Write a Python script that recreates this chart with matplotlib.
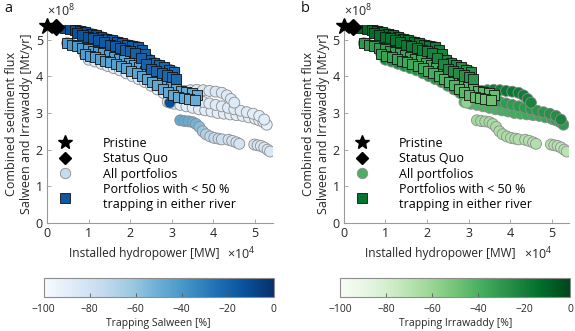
import numpy as np
import matplotlib.pyplot as plt
from matplotlib.lines import Line2D
from matplotlib.colors import Normalize
from matplotlib.cm import ScalarMappable

plt.rcParams['font.family'] = ['Open Sans', 'DejaVu Sans']
plt.rcParams['mathtext.fontset'] = 'custom'
plt.rcParams['mathtext.rm'] = 'Open Sans'

# hydropower in 1e4 MW, flux in 1e8 Mt/yr, trapping in %
pristine = (0.0, 5.36)
status_quo = (0.22, 5.34)

# upper band of portfolios (< 50 % trapping in both rivers)
up_hp = [0.42, 0.55, 0.68, 0.80, 0.92, 1.05, 1.18, 1.30, 1.42, 1.55, 1.68, 1.80, 1.92, 2.05, 2.18,
         2.28, 2.36, 2.46, 2.58, 2.70, 2.82, 2.94, 3.06,
         0.72, 0.85, 0.98, 1.10, 1.23, 1.36, 1.50, 1.62, 1.75, 1.88, 2.00, 2.12, 2.25, 2.38, 2.50,
         2.62, 2.75, 2.88, 3.00, 3.10]
up_flux = [5.32, 5.30, 5.27, 5.23, 5.20, 5.16, 5.12, 5.07, 5.02, 4.98, 4.94, 4.90, 4.86, 4.83, 4.80,
           4.72, 4.60, 4.45, 4.36, 4.30, 4.24, 4.18, 4.12,
           5.18, 5.13, 5.08, 5.03, 4.98, 4.93, 4.86, 4.82, 4.77, 4.72, 4.68, 4.62, 4.50, 4.32, 4.20,
           4.15, 4.09, 4.02, 3.97, 3.93]
up_sal = [-10, -11, -12, -12, -13, -13, -14, -14, -15, -15, -16, -16, -17, -17, -18,
          -18, -19, -19, -20, -20, -21, -21, -22,
          -13, -14, -14, -15, -15, -16, -16, -17, -17, -18, -18, -19, -19, -20, -20,
          -21, -21, -22, -22, -23]
up_irr = [-10, -11, -12, -12, -13, -13, -14, -14, -15, -15, -16, -16, -17, -18, -19,
          -20, -21, -22, -23, -24, -25, -26, -27,
          -13, -14, -14, -15, -16, -16, -17, -18, -18, -19, -20, -21, -22, -23, -24,
          -25, -26, -27, -28, -29]

# lower band of portfolios (< 50 % trapping in both rivers)
lo_hp = [0.48, 0.60, 0.72, 0.85, 0.98, 1.10, 1.22, 1.35, 1.48, 1.60, 1.72, 1.85, 1.98, 2.10, 2.22,
         2.35, 2.48, 2.60, 2.72, 2.85, 2.98, 3.10, 3.22, 3.35, 3.48, 3.60,
         0.90, 1.02, 1.15, 1.28, 1.40, 1.52, 1.65, 1.78, 1.90, 2.02, 2.15, 2.28, 2.40, 2.52, 2.65,
         2.78, 2.90, 3.02, 3.15, 3.28, 3.40, 3.55]
lo_flux = [4.90, 4.86, 4.82, 4.78, 4.74, 4.70, 4.66, 4.62, 4.57, 4.53, 4.48, 4.43, 4.37, 4.31, 4.24,
           4.15, 4.05, 3.97, 3.88, 3.80, 3.70, 3.64, 3.60, 3.56, 3.53, 3.50,
           4.60, 4.56, 4.52, 4.47, 4.42, 4.38, 4.33, 4.28, 4.22, 4.15, 4.08, 4.00, 3.92, 3.84, 3.75,
           3.66, 3.58, 3.50, 3.44, 3.40, 3.38, 3.35]
lo_sal = [-40, -40, -41, -41, -42, -42, -42, -43, -43, -43, -44, -44, -44, -45, -45,
          -45, -46, -46, -46, -47, -47, -47, -48, -48, -48, -49,
          -42, -42, -43, -43, -43, -44, -44, -44, -45, -45, -45, -46, -46, -46, -47,
          -47, -47, -48, -48, -48, -49, -49]
lo_irr = [-30, -31, -32, -32, -33, -33, -34, -34, -35, -35, -36, -36, -37, -37, -38,
          -38, -39, -39, -40, -41, -42, -43, -44, -45, -46, -47,
          -33, -34, -34, -35, -35, -36, -36, -37, -37, -38, -38, -39, -40, -41, -42,
          -43, -44, -45, -46, -47, -48, -48]

# other portfolios below the lower band
mid_hp = [1.00, 1.15, 1.30, 1.45, 1.60, 1.75, 1.90, 2.05, 2.20, 2.35, 2.50, 2.65, 2.80, 2.95]
mid_flux = [4.45, 4.40, 4.34, 4.28, 4.22, 4.16, 4.08, 4.00, 3.92, 3.84, 3.74, 3.64, 3.54, 3.44]
mid_sal = [-86, -86, -87, -87, -87, -88, -88, -88, -88, -89, -89, -89, -89, -90]
mid_irr = [-24, -25, -25, -26, -26, -27, -27, -28, -28, -29, -29, -30, -30, -31]

# right band, high hydropower
rb_hp = [2.90, 3.05, 3.20, 3.35, 3.50, 3.65, 3.80, 3.95, 4.10, 4.25, 4.40, 4.55, 4.70, 4.85, 5.00,
         5.10, 5.20, 5.28,
         3.00, 3.15, 3.30, 3.45, 3.60, 3.75, 3.90, 4.05, 4.20, 4.35, 4.50, 4.65, 4.80, 4.95, 5.10, 5.22,
         3.30, 3.45, 3.60, 3.75, 3.90, 4.05, 4.20, 4.32, 4.42, 4.50]
rb_flux = [3.30, 3.25, 3.22, 3.18, 3.14, 3.10, 3.07, 3.04, 3.00, 2.98, 2.96, 2.94, 2.92, 2.88, 2.84,
           2.80, 2.75, 2.68,
           3.45, 3.42, 3.40, 3.37, 3.33, 3.30, 3.26, 3.22, 3.18, 3.14, 3.10, 3.06, 3.02, 2.98, 2.92, 2.82,
           3.60, 3.62, 3.63, 3.62, 3.60, 3.58, 3.55, 3.48, 3.38, 3.28]
rb_sal = [-88, -88, -88, -89, -89, -89, -89, -90, -90, -90, -90, -90, -91, -91, -91,
          -91, -92, -92,
          -85, -85, -86, -86, -86, -87, -87, -87, -87, -88, -88, -88, -88, -89, -89, -89,
          -84, -84, -84, -85, -85, -85, -86, -86, -86, -86]
rb_irr = [-40, -40, -41, -41, -40, -40, -39, -39, -38, -38, -37, -37, -36, -35, -34,
          -33, -32, -30,
          -34, -34, -33, -33, -32, -32, -31, -31, -30, -30, -29, -29, -28, -27, -26, -22,
          -20, -19, -18, -18, -17, -17, -18, -19, -20, -22]

# low flux cluster
lc_hp = [3.20, 3.30, 3.40, 3.50, 3.58, 3.66, 3.74, 3.82, 3.92, 4.02, 4.12, 4.20, 4.36, 4.45,
         4.55, 4.62, 4.98, 5.06, 5.14, 5.22, 5.30, 5.36]
lc_flux = [2.80, 2.78, 2.77, 2.75, 2.70, 2.62, 2.50, 2.42, 2.36, 2.32, 2.30, 2.28, 2.27, 2.24,
           2.20, 2.16, 2.14, 2.12, 2.10, 2.06, 2.00, 1.95]
lc_sal = [-48, -48, -49, -50, -52, -56, -62, -68, -72, -75, -77, -78, -80, -80,
          -81, -81, -83, -83, -84, -84, -85, -85]
lc_irr = [-63, -63, -64, -64, -65, -65, -66, -66, -66, -67, -67, -67, -68, -68,
          -68, -68, -69, -69, -69, -70, -70, -70]

# single portfolio hidden under the bands
odd_hp = [2.95]
odd_flux = [3.28]
odd_sal = [-12]
odd_irr = [-58]

all_hp = up_hp + lo_hp + mid_hp + rb_hp + odd_hp + lc_hp
all_flux = up_flux + lo_flux + mid_flux + rb_flux + odd_flux + lc_flux
all_sal = up_sal + lo_sal + mid_sal + rb_sal + odd_sal + lc_sal
all_irr = up_irr + lo_irr + mid_irr + rb_irr + odd_irr + lc_irr

ok_hp = lo_hp + up_hp
ok_flux = lo_flux + up_flux
ok_sal = lo_sal + up_sal
ok_irr = lo_irr + up_irr

norm = Normalize(-100, 0)
fig = plt.figure(figsize=(5.75, 3.31), dpi=100)
fs = 9.0
txt = '#262626'

panels = [
    dict(left=0.082, cmap='Blues', c_all=all_sal, c_ok=ok_sal, tag='a', cb='Trapping Salween [%]'),
    dict(left=0.598, cmap='Greens', c_all=all_irr, c_ok=ok_irr, tag='b', cb='Trapping Irrawaddy [%]'),
]

for p in panels:
    cmap = plt.get_cmap(p['cmap'])
    ax = fig.add_axes([p['left'], 0.326, 0.392, 0.599])
    ax.scatter(all_hp, all_flux, s=62, c=p['c_all'], cmap=cmap, norm=norm,
               edgecolors='#8c8c8c', linewidths=0.6, zorder=2)
    ax.scatter(ok_hp, ok_flux, s=52, marker='s', c=p['c_ok'], cmap=cmap, norm=norm,
               edgecolors='#111111', linewidths=0.6, zorder=3)
    ax.plot(*status_quo, marker='D', ms=8, color='black', ls='none', clip_on=False, zorder=4)
    ax.plot(*pristine, marker='*', ms=12, color='black', ls='none', clip_on=False, zorder=5)

    ax.set_xlim(0, 5.42)
    ax.set_ylim(0, 5.4)
    ax.set_xticks(range(6))
    ax.set_yticks(range(6))
    for s in ['top', 'right']:
        ax.spines[s].set_visible(False)
    for s in ['left', 'bottom']:
        ax.spines[s].set_color('#9a9a9a')
        ax.spines[s].set_linewidth(0.8)
    ax.tick_params(direction='in', length=3, width=0.6, color='#9a9a9a',
                   labelsize=fs, labelcolor=txt, pad=3)
    ax.set_xlabel('Installed hydropower [MW]', fontsize=8.6, color=txt)
    ax.xaxis.set_label_coords(0.43, -0.155)
    ax.xaxis.label.set_va('center')
    ax.set_ylabel('Combined sediment flux\nSalween and Irrawaddy [Mt/yr]', fontsize=fs,
                  color=txt, labelpad=2, linespacing=1.15)
    ax.text(0.0, 1.03, r'$\times10^{8}$', transform=ax.transAxes, fontsize=fs,
            color=txt, ha='left', va='bottom')
    ax.text(0.8, -0.155, r'$\times10^{4}$', transform=ax.transAxes, fontsize=fs,
            color=txt, ha='left', va='center')
    ax.text(-0.19, 1.045, p['tag'], transform=ax.transAxes, fontsize=10.5, color='#111111',
            ha='left', va='bottom')

    handles = [
        Line2D([], [], marker='*', ms=10, color='black', ls='none'),
        Line2D([], [], marker='D', ms=6.5, color='black', ls='none'),
        Line2D([], [], marker='o', ms=7.5, ls='none', markerfacecolor=cmap(0.25 if p['tag'] == 'a' else 0.6),
               markeredgecolor='#8c8c8c', markeredgewidth=0.6),
        Line2D([], [], marker='s', ms=7, ls='none', markerfacecolor=cmap(0.85),
               markeredgecolor='#111111', markeredgewidth=0.6),
    ]
    labels = ['Pristine', 'Status Quo', 'All portfolios',
              'Portfolios with < 50 %\ntrapping in either river']
    ax.legend(handles, labels, loc='upper left', bbox_to_anchor=(0.035, 0.435), frameon=False,
              fontsize=fs, handlelength=1.6, handletextpad=2.2, labelspacing=0.2,
              borderaxespad=0, borderpad=0)

    cax = fig.add_axes([p['left'] - 0.006, 0.103, 0.4, 0.057])
    cb = fig.colorbar(ScalarMappable(norm=norm, cmap=cmap), cax=cax, orientation='horizontal')
    cb.set_ticks([-100, -80, -60, -40, -20, 0])
    cb.outline.set_edgecolor('#8c8c8c')
    cb.outline.set_linewidth(0.8)
    cax.tick_params(direction='in', length=3, width=0.6, color='#555555',
                    labelsize=7.5, labelcolor=txt, pad=5)
    cb.set_label(p['cb'], fontsize=7.5, color=txt, labelpad=2)

fig.savefig('out.png', dpi=100)
